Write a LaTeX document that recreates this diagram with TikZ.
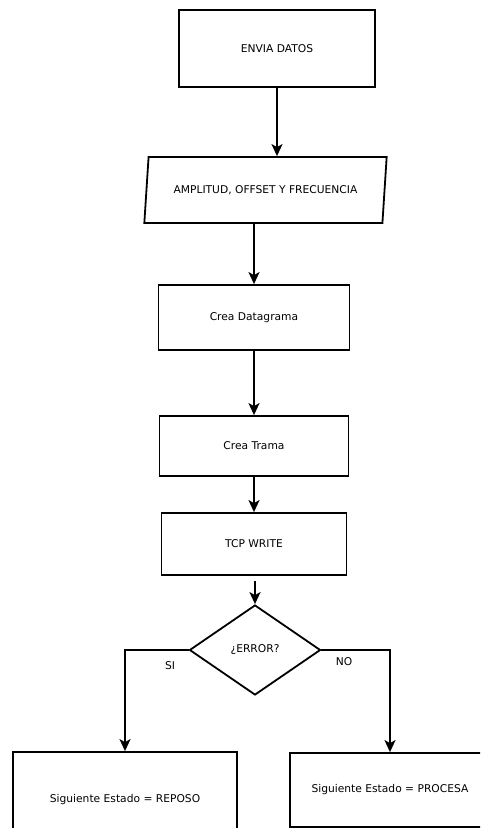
\documentclass[tikz,border=0pt]{standalone}
\usepackage{fontspec}
\setmainfont{DejaVu Sans}
\usetikzlibrary{arrows.meta,shapes.geometric}
\begin{document}
\begin{tikzpicture}[x=1pt,y=-1pt,
  font=\fontsize{10.7}{12}\selectfont,
  box/.style={draw=black, line width=1.8pt, inner sep=0pt, fill=white},
  io/.style={draw=black, line width=1.8pt, inner sep=0pt, shape=trapezium,
    trapezium stretches=true, trapezium left angle=70, trapezium right angle=110},
  decision/.style={draw=black, line width=1.8pt, inner sep=0pt, shape=diamond},
  flow/.style={line width=1.8pt, -{Stealth[length=12pt,width=11pt,inset=3pt]}},
  tag/.style={inner sep=0pt}]
\useasboundingbox (0,0) rectangle (480,828);
\clip (0,0) rectangle (480,828);

% process steps
\node[box, minimum width=196pt, minimum height=77pt] (envia) at (277,48.5) {ENVIA DATOS};
\node[io, minimum width=243pt, minimum height=66pt] (param) at (265.5,190) {AMPLITUD, OFFSET Y FRECUENCIA};
\node[box, minimum width=191pt, minimum height=65pt] (dgram) at (254,317.5) {Crea Datagrama};
\node[box, minimum width=189pt, minimum height=60pt] (trama) at (254,446) {Crea Trama};
\node[box, minimum width=185pt, minimum height=62pt] (tcp) at (254,544) {TCP WRITE};
\node[decision, minimum width=131pt, minimum height=90pt, aspect=1.46] (err) at (255,650) {¿ERROR?};

% outcomes
\node[box, minimum width=224pt, minimum height=96pt] (reposo) at (125,800) {Siguiente Estado = REPOSO};
\node[box, minimum width=200pt, minimum height=74pt] (procesa) at (390,790) {Siguiente Estado = PROCESA};

% connectors
\draw[flow] (envia.south) -- (envia.south |- param.north);
\draw[flow] (dgram.north |- param.south) -- (dgram.north);
\draw[flow] (dgram.south) -- (dgram.south |- trama.north);
\draw[flow] (trama.south) -- (trama.south |- tcp.north);
\draw[flow, shorten <=5pt] (tcp.south -| err.north) -- (err.north);
\draw[flow] (err.west) -| (reposo.north);
\draw[flow] (err.east) -| (procesa.north);

% branch labels
\node[tag] (si) at (170,666) {SI};
\node[tag] (no) at (344,662) {NO};
\end{tikzpicture}
\end{document}
